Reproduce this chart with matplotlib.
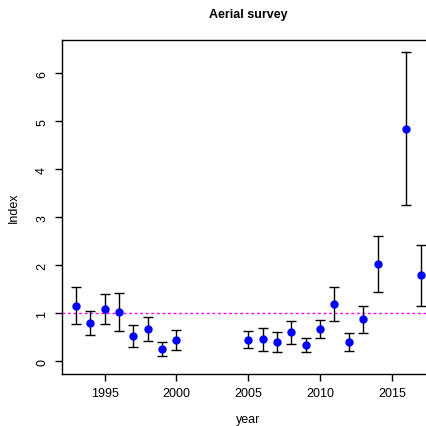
import matplotlib
matplotlib.use("Agg")
import matplotlib.pyplot as plt

# Aerial survey index with confidence intervals
years = [1993, 1994, 1995, 1996, 1997, 1998, 1999, 2000,
         2005, 2006, 2007, 2008, 2009, 2010, 2011, 2012, 2013, 2014,
         2016, 2017]
index = [1.16, 0.80, 1.08, 1.02, 0.53, 0.67, 0.25, 0.44,
         0.44, 0.46, 0.40, 0.60, 0.33, 0.67, 1.19, 0.39, 0.87, 2.02,
         4.85, 1.80]
lower = [0.77, 0.55, 0.78, 0.63, 0.30, 0.42, 0.11, 0.24,
         0.28, 0.22, 0.20, 0.35, 0.19, 0.48, 0.83, 0.21, 0.58, 1.44,
         3.26, 1.16]
upper = [1.54, 1.05, 1.40, 1.42, 0.76, 0.92, 0.39, 0.65,
         0.62, 0.69, 0.60, 0.84, 0.48, 0.85, 1.55, 0.58, 1.14, 2.60,
         6.44, 2.42]
xticks = [1995, 2000, 2005, 2010, 2015]
yticks = [0, 1, 2, 3, 4, 5, 6]

plt.rcParams['font.family'] = ['Liberation Sans', 'DejaVu Sans']

fig = plt.figure(figsize=(4.26, 4.27), dpi=100)
# the reference is cropped on the right, so the axes run past the figure edge
ax = fig.add_axes([62 / 426, 1 - 374.5 / 427, 372.5 / 426, 333.5 / 427])

err_lo = [v - lo for v, lo in zip(index, lower)]
err_hi = [hi - v for v, hi in zip(index, upper)]
ax.errorbar(years, index, yerr=[err_lo, err_hi], fmt='none', ecolor='black',
            elinewidth=1, capsize=3.6, capthick=1, zorder=2)
ax.plot(years, index, 'o', color='#0000ff', markersize=5, zorder=3)
ax.axhline(1, color='#ff00ff', linestyle=(0, (2, 2)), linewidth=1, zorder=1)

xr = max(years) - min(years)
ax.set_xlim(min(years) - 0.04 * xr, max(years) + 0.04 * xr)
yr = max(upper) - 0
ax.set_ylim(0 - 0.04 * yr, max(upper) + 0.04 * yr)

ax.set_xticks(xticks)
ax.set_yticks(yticks)
ax.tick_params(direction='out', length=5, width=1, labelsize=9, pad=5)
for lab in ax.get_yticklabels():
    lab.set_rotation(90)
    lab.set_va('center')
for sp in ax.spines.values():
    sp.set_linewidth(1)

ax.set_xlabel('year', fontsize=9, labelpad=10)
ax.set_ylabel('Index', fontsize=9, labelpad=12)
fig.text(248 / 426, 1 - 15 / 427, 'Aerial survey', ha='center', va='center',
         fontsize=9, fontweight='bold')

fig.savefig('out.png', dpi=100)
